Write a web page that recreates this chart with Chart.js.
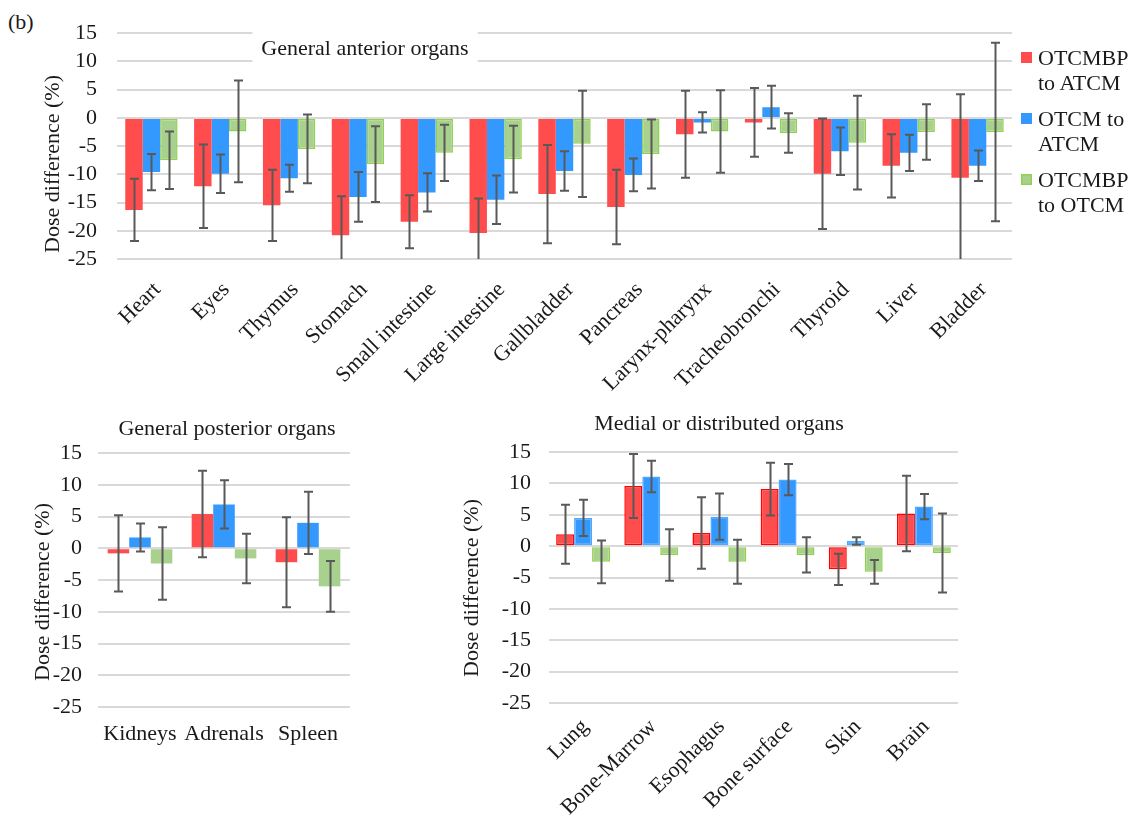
<!DOCTYPE html>
<html>
<head>
<meta charset="utf-8">
<script src="https://cdn.jsdelivr.net/npm/chart.js@4.4.1/dist/chart.umd.min.js"></script>
<style>
  body { margin:0; background:#fff; width:1138px; height:821px; position:relative; overflow:hidden;
         font-family:"Liberation Serif","Times New Roman",serif; color:#1a1a1a; }
  canvas { position:absolute; }
  #tag { position:absolute; left:8px; top:9px; font-size:22px; line-height:26px; }
  .leg { position:absolute; left:1021px; width:110px; font-size:22px; line-height:25px; }
  .leg i { position:absolute; left:0; width:11px; height:11px; }
  .leg span { position:absolute; left:17px; width:95px; }
</style>
</head>
<body>
<div id="tag">(b)</div>
<canvas id="anterior" width="1024" height="400" style="left:0;top:0"></canvas>
<canvas id="posterior" width="360" height="380" style="left:0;top:400px"></canvas>
<canvas id="medial" width="545" height="421" style="left:440px;top:400px"></canvas>
<div id="legend"></div>
<script>
// series names and y ticks shared by the three panels
const seriesNames = ['OTCMBP to ATCM', 'OTCM to ATCM', 'OTCMBP to OTCM'];
const yTicks = [-25, -20, -15, -10, -5, 0, 5, 10, 15];

// General anterior organs
const anteriorOrgans = ['Heart','Eyes','Thymus','Stomach','Small intestine','Large intestine','Gallbladder',
                        'Pancreas','Larynx-pharynx','Tracheobronchi','Thyroid','Liver','Bladder'];
const anteriorBpAtcm      = [-16.3, -12.1, -15.5, -20.8, -18.4, -20.4, -13.5, -15.8, -2.9, -0.8, -9.9, -8.5, -10.6];
const anteriorBpAtcmErr   = [5.5, 7.4, 6.3, 6.9, 4.7, 6.1, 8.7, 6.6, 7.7, 6.1, 9.8, 5.6, 14.8];
const anteriorOtcmAtcm    = [-9.6, -9.9, -10.7, -14.0, -13.2, -14.5, -9.4, -10.1, -0.8, 1.9, -5.9, -6.2, -8.5];
const anteriorOtcmAtcmErr = [3.2, 3.4, 2.4, 4.4, 3.4, 4.3, 3.5, 2.9, 1.8, 3.8, 4.2, 3.2, 2.7];
const anteriorBpOtcm      = [-7.5, -2.4, -5.5, -8.2, -6.2, -7.3, -4.6, -6.4, -2.4, -2.7, -4.4, -2.5, -2.5];
const anteriorBpOtcmErr   = [5.1, 9.0, 6.1, 6.7, 5.0, 5.9, 9.4, 6.1, 7.3, 3.5, 8.3, 4.9, 15.8];

// General posterior organs
const posteriorOrgans = ['Kidneys', 'Adrenals', 'Spleen'];
const posteriorBpAtcm      = [-0.8, 5.4, -2.2];
const posteriorBpAtcmErr   = [6.0, 6.8, 7.1];
const posteriorOtcmAtcm    = [1.7, 6.9, 4.0];
const posteriorOtcmAtcmErr = [2.2, 3.8, 4.9];
const posteriorBpOtcm      = [-2.4, -1.6, -6.0];
const posteriorBpOtcmErr   = [5.7, 3.9, 4.0];

// Medial or distributed organs
const medialOrgans = ['Lung', 'Bone-Marrow', 'Esophagus', 'Bone surface', 'Skin', 'Brain'];
const medialBpAtcm      = [1.9, 9.6, 2.1, 9.1, -3.7, 5.2];
const medialBpAtcmErr   = [4.7, 5.1, 5.7, 4.2, 2.5, 6.0];
const medialOtcmAtcm    = [4.5, 11.1, 4.7, 10.6, 0.8, 6.3];
const medialOtcmAtcmErr = [2.9, 2.5, 3.7, 2.5, 0.6, 2.0];
const medialBpOtcm      = [-2.5, -1.4, -2.5, -1.4, -4.1, -1.1];
const medialBpOtcmErr   = [3.4, 4.1, 3.5, 2.8, 1.9, 6.3];

const palette = {
  red: '#FF4D4D', blue: '#3399FF', green: '#A9D18E', greenEdge: '#92D050',
  err: '#595959', grid: '#D9D9D9', text: '#1a1a1a'
};
const FONT = '"Liberation Serif", "Times New Roman", serif';
Chart.defaults.font.family = FONT;
Chart.defaults.font.size = 22;
Chart.defaults.color = palette.text;

// symmetric error bars, clipped to the plot area like in the original
const errorBars = {
  id: 'errorBars',
  afterDatasetsDraw(chart) {
    const { ctx, chartArea: a, scales: { y } } = chart;
    ctx.save();
    ctx.beginPath();
    ctx.rect(a.left, a.top - 2, a.right - a.left, a.bottom - a.top + 2);
    ctx.clip();
    ctx.strokeStyle = palette.err;
    ctx.lineWidth = 2;
    chart.data.datasets.forEach((ds, i) => {
      chart.getDatasetMeta(i).data.forEach((bar, j) => {
        const v = ds.data[j], e = ds.errors[j];
        const hi = y.getPixelForValue(v + e), lo = y.getPixelForValue(v - e);
        const x = Math.round(bar.x) + 0.5;
        ctx.beginPath();
        ctx.moveTo(x, hi); ctx.lineTo(x, lo);
        ctx.moveTo(x - 4.5, hi); ctx.lineTo(x + 4.5, hi);
        ctx.moveTo(x - 4.5, lo); ctx.lineTo(x + 4.5, lo);
        ctx.stroke();
      });
    });
    ctx.restore();
  }
};

// panel titles and axis titles placed where Excel put them
const panelText = {
  id: 'panelText',
  afterDraw(chart, args, opts) {
    const ctx = chart.ctx;
    (opts.items || []).forEach(t => {
      ctx.save();
      ctx.font = '22px ' + FONT;
      ctx.translate(t.x, t.y);
      if (t.rotate) ctx.rotate(t.rotate);
      ctx.textAlign = 'center';
      ctx.textBaseline = 'middle';
      if (t.mask) {
        const w = ctx.measureText(t.text).width;
        ctx.fillStyle = '#fff';
        ctx.fillRect(-w / 2 - 9, -24, w + 18, 45);
      }
      ctx.fillStyle = palette.text;
      ctx.fillText(t.text, 0, 0);
      ctx.restore();
    });
  }
};

function makeSeries(values, errors, edges) {
  const fills = [palette.red, palette.blue, palette.green];
  return values.map((data, k) => ({
    label: seriesNames[k],
    data,
    errors: errors[k],
    backgroundColor: fills[k],
    borderColor: edges[k],
    borderWidth: edges[k] ? 1.5 : 0,
    borderSkipped: false,
    barPercentage: 1
  }));
}

function panel(id, labels, datasets, o) {
  datasets.forEach(d => d.categoryPercentage = o.catPct);
  return new Chart(document.getElementById(id), {
    type: 'bar',
    data: { labels, datasets },
    options: {
      responsive: false,
      animation: false,
      layout: { padding: o.padding },
      plugins: {
        legend: { display: false },
        tooltip: { enabled: false },
        panelText: { items: o.texts }
      },
      scales: {
        x: {
          grid: { display: false },
          border: { display: false },
          ticks: { autoSkip: false, minRotation: o.rot, maxRotation: o.rot, padding: o.xPad, labelOffset: o.xShift },
          afterFit: s => { s.height = o.xHeight; }
        },
        y: {
          min: -25, max: 15,
          afterBuildTicks: s => { s.ticks = yTicks.map(v => ({ value: v })); },
          grid: { color: palette.grid, lineWidth: 2, drawTicks: false },
          border: { display: false },
          ticks: { padding: o.yPad, autoSkip: false },
          afterFit: s => { s.width = o.yWidth; }
        }
      }
    },
    plugins: [errorBars, panelText]
  });
}

const rotY = -Math.PI / 2;

panel('anterior', anteriorOrgans,
  makeSeries([anteriorBpAtcm, anteriorOtcmAtcm, anteriorBpOtcm],
             [anteriorBpAtcmErr, anteriorOtcmAtcmErr, anteriorBpOtcmErr],
             [null, null, palette.greenEdge]),
  { catPct: 0.76, padding: { top: 33, right: 12, left: 0, bottom: 0 }, rot: 45, xPad: 10, xShift: 6, xHeight: 141,
    yPad: 20, yWidth: 117,
    texts: [ { text: 'General anterior organs', x: 365, y: 49, mask: true },
             { text: 'Dose difference (%)', x: 53, y: 164, rotate: rotY } ] });

panel('posterior', posteriorOrgans,
  makeSeries([posteriorBpAtcm, posteriorOtcmAtcm, posteriorBpOtcm],
             [posteriorBpAtcmErr, posteriorOtcmAtcmErr, posteriorBpOtcmErr],
             [null, null, null]),
  { catPct: 0.77, padding: { top: 53, right: 10, left: 0, bottom: 0 }, rot: 0, xPad: 6, xShift: 0, xHeight: 73,
    yPad: 16, yWidth: 98,
    texts: [ { text: 'General posterior organs', x: 227, y: 29 },
             { text: 'Dose difference (%)', x: 43, y: 192, rotate: rotY } ] });

panel('medial', medialOrgans,
  makeSeries([medialBpAtcm, medialOtcmAtcm, medialBpOtcm],
             [medialBpAtcmErr, medialOtcmAtcmErr, medialBpOtcmErr],
             ['#FF0000', '#4FA8FF', palette.greenEdge]),
  { catPct: 0.79, padding: { top: 52, right: 27, left: 0, bottom: 0 }, rot: 45, xPad: 3, xShift: 2, xHeight: 118,
    yPad: 18, yWidth: 109,
    texts: [ { text: 'Medial or distributed organs', x: 279, y: 24 },
             { text: 'Dose difference (%)', x: 32, y: 188, rotate: rotY } ] });

// legend of the anterior panel, wrapped onto two lines as in the original
const legendTops = [45, 106, 167];
const legendFills = [palette.red, palette.blue, palette.green];
const legendEl = document.getElementById('legend');
seriesNames.forEach((name, k) => {
  const item = document.createElement('div');
  item.className = 'leg';
  item.style.top = legendTops[k] + 'px';
  const sw = document.createElement('i');
  sw.style.top = '7px';
  sw.style.background = legendFills[k];
  if (k === 2) { sw.style.boxShadow = 'inset 0 0 0 1.5px ' + palette.greenEdge; }
  const txt = document.createElement('span');
  txt.textContent = name;
  item.appendChild(sw);
  item.appendChild(txt);
  legendEl.appendChild(item);
});
</script>
</body>
</html>
